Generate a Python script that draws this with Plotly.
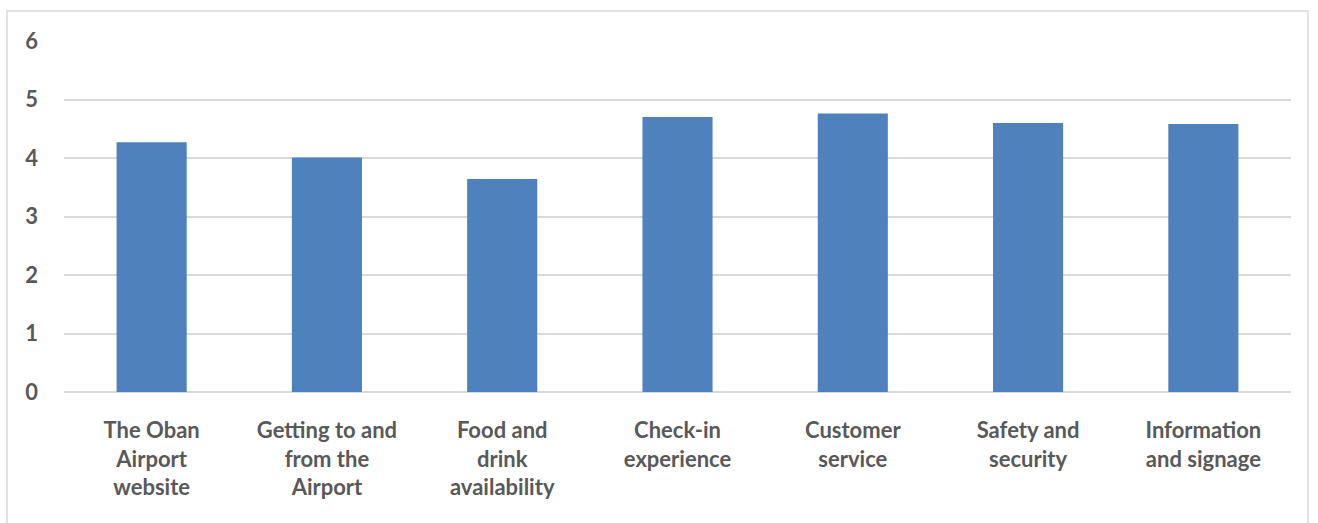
import plotly.graph_objects as go

categories = [
    "The Oban<br>Airport<br>website",
    "Getting to and<br>from the<br>Airport",
    "Food and<br>drink<br>availability",
    "Check-in<br>experience",
    "Customer<br>service",
    "Safety and<br>security",
    "Information<br>and signage",
]
scores = [4.27, 4.01, 3.64, 4.70, 4.76, 4.60, 4.58]
y_ticks = [0, 1, 2, 3, 4, 5, 6]

W, H = 1318, 523
L, R, T, B = 64, 27, 41, 131
pw, ph = W - L - R, H - T - B


def px_x(p):
    return (p - L) / pw


def px_y(p):
    return (H - B - p) / ph


fig = go.Figure(
    go.Bar(
        x=categories,
        y=scores,
        marker=dict(color="#4F81BD", line=dict(width=0)),
        width=0.4,
    )
)

tick_font = dict(family="Lato, sans-serif", size=22, color="#595959", weight="bold")

# light frame around the whole chart
fig.add_shape(
    type="rect", xref="paper", yref="paper",
    x0=px_x(7), x1=px_x(1308), y0=px_y(560), y1=px_y(11),
    line=dict(color="#d9d9d9", width=1.5), fillcolor="rgba(0,0,0,0)",
    layer="below",
)

fig.update_layout(
    width=W, height=H,
    margin=dict(l=L, r=R, t=T, b=B, pad=0),
    paper_bgcolor="white", plot_bgcolor="white",
    showlegend=False,
    bargap=0.6,
)
fig.update_xaxes(
    tickfont=tick_font,
    showgrid=False, showline=False, zeroline=False,
    ticks="", ticklabelstandoff=23,
)
fig.update_yaxes(
    range=[0, 6], tickvals=y_ticks,
    tickfont=tick_font,
    showgrid=True, gridcolor="#d9d9d9", gridwidth=1.5,
    zeroline=True, zerolinecolor="#d9d9d9", zerolinewidth=1.5,
    showline=False, ticks="", ticklabelstandoff=25,
)

fig.write_html("out.html")
